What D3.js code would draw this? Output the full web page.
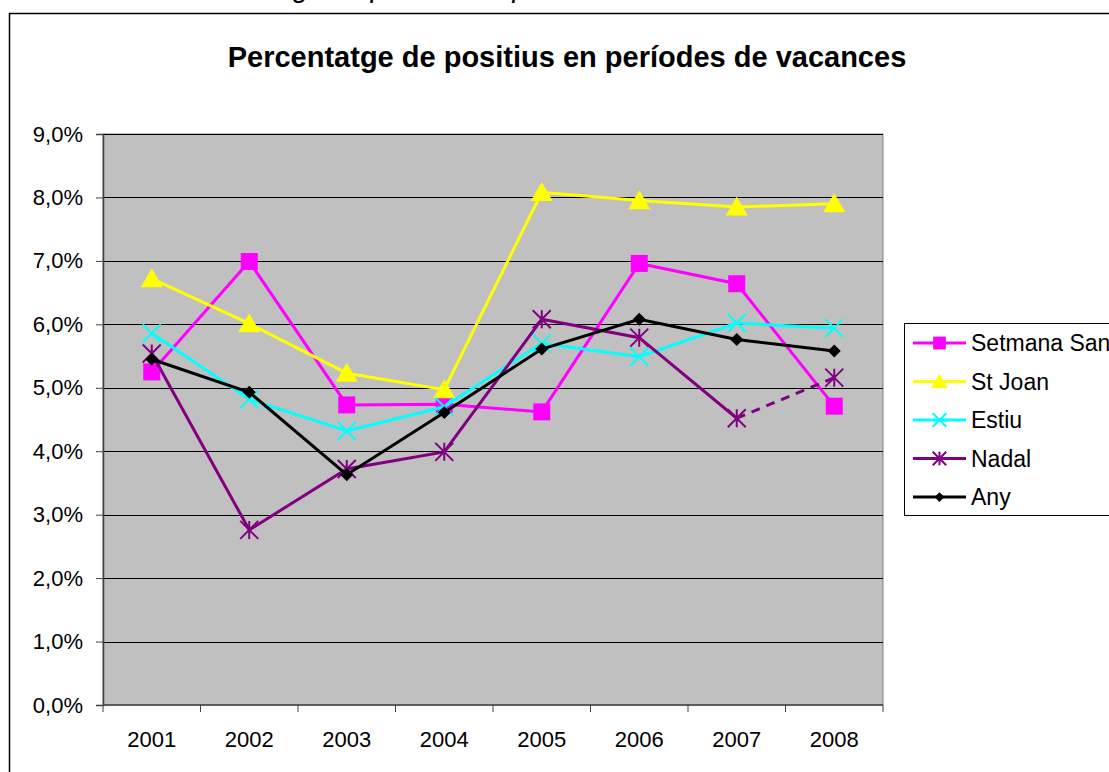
<!DOCTYPE html>
<html>
<head>
<meta charset="utf-8">
<script src="https://cdn.jsdelivr.net/npm/d3@7"></script>
<style>
  body { margin: 0; background: #fff; }
  text { font-family: Arial, "Liberation Sans", sans-serif; }
</style>
</head>
<body>
<div id="chart"></div>
<script>
// Years on the x axis
var years = ["2001", "2002", "2003", "2004", "2005", "2006", "2007", "2008"];

// Percentage values for each series
var setmanaSanta = [0.0525, 0.0699, 0.0473, 0.0474, 0.0462, 0.0696, 0.0664, 0.0471];
var stJoan       = [0.0672, 0.0601, 0.0523, 0.0497, 0.0808, 0.0795, 0.0785, 0.0790];
var estiu        = [0.0586, 0.0482, 0.0432, 0.0470, 0.0570, 0.0549, 0.0602, 0.0594];
var nadal        = [0.0554, 0.0276, 0.0372, 0.0399, 0.0608, 0.0579, 0.0452, 0.0516];
var any          = [0.0545, 0.0493, 0.0363, 0.0461, 0.0561, 0.0608, 0.0576, 0.0558];

var seriesNames  = ["Setmana Santa", "St Joan", "Estiu", "Nadal", "Any"];
var seriesColors = ["#ff00ff", "#ffff00", "#00ffff", "#800080", "#000000"];
var seriesShapes = ["square", "triangle", "cross", "star", "diamond"];

// Y tick values
var yTicks = [0, 0.01, 0.02, 0.03, 0.04, 0.05, 0.06, 0.07, 0.08, 0.09];

var title = "Percentatge de positius en períodes de vacances";

function init() {
    var w = 1109;
    var h = 772;

    var svg = d3.select("#chart")
                .append("svg")
                .attr("width", w)
                .attr("height", h);

    // caption of the document, cut off at the top (only descenders show)
    svg.append("text")
        .attr("x", 293)
        .attr("y", -3)
        .style("font-size", "28px")
        .style("font-style", "italic")
        .text("ge de positius en períodes de vacances");

    // chart frame
    svg.append("rect")
        .attr("x", 9.5).attr("y", 13.5)
        .attr("width", 1200).attr("height", 800)
        .attr("fill", "#fff")
        .attr("stroke", "#000")
        .attr("stroke-width", 1.5);

    var plot = { left: 103, right: 883, top: 134, bottom: 705 };

    var xScale = d3.scaleBand()
                    .domain(years)
                    .range([plot.left, plot.right]);

    var yScale = d3.scaleLinear()
                    .domain([0, 0.09])
                    .range([plot.bottom, plot.top]);

    var locale = d3.formatLocale({ decimal: ",", thousands: ".", grouping: [3], currency: ["", "€"] });
    var pct = locale.format(".1%");

    // grey plot area
    svg.append("rect")
        .attr("x", plot.left).attr("y", plot.top)
        .attr("width", plot.right - plot.left)
        .attr("height", plot.bottom - plot.top)
        .attr("fill", "#c0c0c0")
        .attr("stroke", "#808080")
        .attr("stroke-width", 1);

    // gridlines
    svg.append("g")
        .selectAll("line")
        .data(yTicks.slice(1))
        .enter()
        .append("line")
        .attr("x1", plot.left).attr("x2", plot.right)
        .attr("y1", function(d) { return Math.round(yScale(d)) + 0.5; })
        .attr("y2", function(d) { return Math.round(yScale(d)) + 0.5; })
        .attr("stroke", "#000")
        .attr("stroke-width", 1);

    // y axis
    var yAxis = d3.axisLeft(yScale)
                    .tickValues(yTicks)
                    .tickFormat(pct)
                    .tickSize(7)
                    .tickPadding(13);
    var gy = svg.append("g")
        .attr("transform", "translate(" + plot.left + ",0)")
        .call(yAxis);
    gy.select(".domain").attr("stroke", "#404040").attr("stroke-width", 1.5);
    gy.selectAll(".tick line").attr("stroke", "#404040");
    gy.selectAll(".tick text")
        .attr("fill", "#000")
        .style("font-size", "22px")
        .style("font-family", "Arial, 'Liberation Sans', sans-serif");

    // x axis: ticks between categories
    var gx = svg.append("g")
        .attr("transform", "translate(0," + plot.bottom + ")");
    gx.append("line")
        .attr("x1", plot.left).attr("x2", plot.right)
        .attr("stroke", "#404040").attr("stroke-width", 1.5);
    gx.selectAll(".tk")
        .data(years.concat(["end"]))
        .enter()
        .append("line")
        .attr("x1", function(d, i) { return i < years.length ? xScale(d) : plot.right; })
        .attr("x2", function(d, i) { return i < years.length ? xScale(d) : plot.right; })
        .attr("y1", 0).attr("y2", 7)
        .attr("stroke", "#404040");
    gx.selectAll("text")
        .data(years)
        .enter()
        .append("text")
        .attr("x", function(d) { return xScale(d) + xScale.bandwidth() / 2; })
        .attr("y", 42)
        .attr("text-anchor", "middle")
        .style("font-size", "22px")
        .text(function(d) { return d; });

    // title
    svg.append("text")
        .attr("x", 567)
        .attr("y", 67)
        .attr("text-anchor", "middle")
        .style("font-size", "29px")
        .style("font-weight", "bold")
        .text(title);

    var cx = function(d, i) { return xScale(years[i]) + xScale.bandwidth() / 2; };

    var allSeries = [setmanaSanta, stJoan, estiu, nadal, any];

    function drawMarker(g, shape, color, size) {
        var s = size;
        if (shape === "square") {
            g.append("rect").attr("x", -s / 2).attr("y", -s / 2)
                .attr("width", s).attr("height", s).attr("fill", color);
        } else if (shape === "triangle") {
            g.append("path")
                .attr("d", "M0," + (-s * 0.55) + "L" + (s * 0.58) + "," + (s * 0.45) + "L" + (-s * 0.58) + "," + (s * 0.45) + "Z")
                .attr("fill", color);
        } else if (shape === "cross") {
            var r = s / 2;
            g.append("path")
                .attr("d", "M" + -r + "," + -r + "L" + r + "," + r + "M" + r + "," + -r + "L" + -r + "," + r)
                .attr("stroke", color).attr("stroke-width", 2).attr("fill", "none");
        } else if (shape === "star") {
            var r2 = s / 2;
            g.append("path")
                .attr("d", "M" + -r2 + "," + -r2 + "L" + r2 + "," + r2 + "M" + r2 + "," + -r2 + "L" + -r2 + "," + r2 + "M0," + -r2 + "L0," + r2)
                .attr("stroke", color).attr("stroke-width", 2).attr("fill", "none");
        } else if (shape === "diamond") {
            var r3 = s / 2;
            g.append("path")
                .attr("d", "M0," + -r3 + "L" + r3 + ",0L0," + r3 + "L" + -r3 + ",0Z")
                .attr("fill", color);
        }
    }

    var markerSize = { square: 17, triangle: 19, cross: 18, star: 18, diamond: 13 };

    var line = d3.line()
                .x(cx)
                .y(function(d) { return yScale(d); });

    allSeries.forEach(function(vals, k) {
        var g = svg.append("g");
        if (seriesNames[k] === "Nadal") {
            // last segment is dashed
            g.append("path")
                .attr("d", line(vals.slice(0, 7)))
                .attr("fill", "none").attr("stroke", seriesColors[k]).attr("stroke-width", 3);
            g.append("path")
                .attr("d", d3.line()
                    .x(function(d, i) { return cx(d, i + 6); })
                    .y(function(d) { return yScale(d); })(vals.slice(6)))
                .attr("fill", "none").attr("stroke", seriesColors[k]).attr("stroke-width", 3)
                .attr("stroke-dasharray", "9,7");
        } else {
            g.append("path")
                .attr("d", line(vals))
                .attr("fill", "none").attr("stroke", seriesColors[k]).attr("stroke-width", 3);
        }
        g.selectAll(".m")
            .data(vals)
            .enter()
            .append("g")
            .attr("transform", function(d, i) { return "translate(" + cx(d, i) + "," + yScale(d) + ")"; })
            .each(function() {
                drawMarker(d3.select(this), seriesShapes[k], seriesColors[k], markerSize[seriesShapes[k]]);
            });
    });

    // legend
    var lg = svg.append("g");
    lg.append("rect")
        .attr("x", 904.5).attr("y", 323.5)
        .attr("width", 300).attr("height", 192)
        .attr("fill", "#fff").attr("stroke", "#000").attr("stroke-width", 1);
    var items = lg.selectAll(".item")
        .data(seriesNames)
        .enter()
        .append("g")
        .attr("transform", function(d, i) { return "translate(0," + (343 + i * 38.5) + ")"; });
    items.append("line")
        .attr("x1", 913).attr("x2", 966)
        .attr("stroke", function(d, i) { return seriesColors[i]; })
        .attr("stroke-width", 3);
    items.each(function(d, i) {
        var m = d3.select(this).append("g").attr("transform", "translate(939.5,0)");
        drawMarker(m, seriesShapes[i], seriesColors[i], markerSize[seriesShapes[i]] * 0.75);
    });
    items.append("text")
        .attr("x", 971)
        .attr("y", 8)
        .style("font-size", "23px")
        .text(function(d) { return d; });
}

window.onload = init;
</script>
</body>
</html>
